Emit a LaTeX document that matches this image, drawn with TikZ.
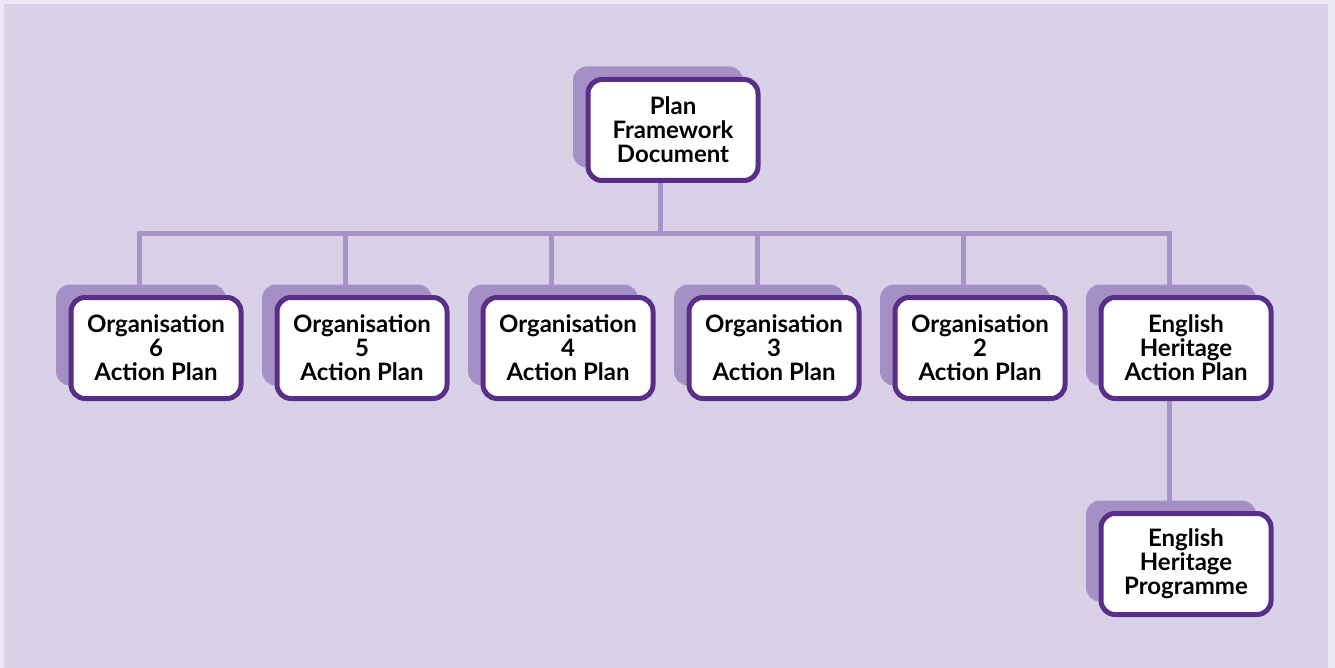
\documentclass[tikz,border=0pt]{standalone}
\usepackage{fontspec}
\setmainfont{Lato}
\usetikzlibrary{positioning,shadows,backgrounds}

\definecolor{framecol}{HTML}{ECE7F4}
\definecolor{pagebg}{HTML}{D9D1E8}
\definecolor{planshadow}{HTML}{A590C5}
\definecolor{planedge}{HTML}{5A2D88}
\definecolor{linkcol}{HTML}{A893C8}

\begin{document}
\begin{tikzpicture}[x=1pt,y=-1pt,node distance=206pt,on grid,
    plan/.style={draw=planedge,line width=5pt,fill=white,rounded corners=14pt,
        minimum width=170pt,minimum height=101pt,align=center,inner sep=0pt,
        font=\fontsize{24}{24}\selectfont\bfseries,
        general shadow={fill=planshadow,shadow xshift=-15pt,shadow yshift=13pt}},
    link/.style={draw=linkcol,line width=5pt}]
    \useasboundingbox (0,0) rectangle (1335,668);

    \node[plan] (pfd) at (673,130) {Plan\\Framework\\Document};
    \node[plan] (eh) at (1186,348) {English\\Heritage\\Action Plan};
    \node[plan] (org2) [left=of eh] {Organisation\\2\\Action Plan};
    \node[plan] (org3) [left=of org2] {Organisation\\3\\Action Plan};
    \node[plan] (org4) [left=of org3] {Organisation\\4\\Action Plan};
    \node[plan] (org5) [left=of org4] {Organisation\\5\\Action Plan};
    \node[plan] (org6) [left=of org5] {Organisation\\6\\Action Plan};
    \node[plan] (ehp) [below=216pt of eh] {English\\Heritage\\Programme};

    \begin{pgfonlayer}{background}
        \fill[framecol] (0,0) rectangle (1335,668);
        \fill[pagebg] (4,4) rectangle (1328,668);
        \coordinate (bar) at (0,234);
        \draw[link] ([xshift=-13pt]pfd.south) -- ([xshift=-13pt]pfd.south |- bar);
        \draw[link] ([xshift=-17pt]org6.north) |- ([xshift=-17pt]eh.north |- bar)
            -- ([xshift=-17pt]eh.north);
        \foreach \n in {org5,org4,org3,org2}
            \draw[link] ([xshift=-17pt]\n.north |- bar) -- ([xshift=-17pt]\n.north);
        \draw[link] ([xshift=-17pt]eh.south) -- ([xshift=-17pt]ehp.north);
    \end{pgfonlayer}
\end{tikzpicture}
\end{document}
